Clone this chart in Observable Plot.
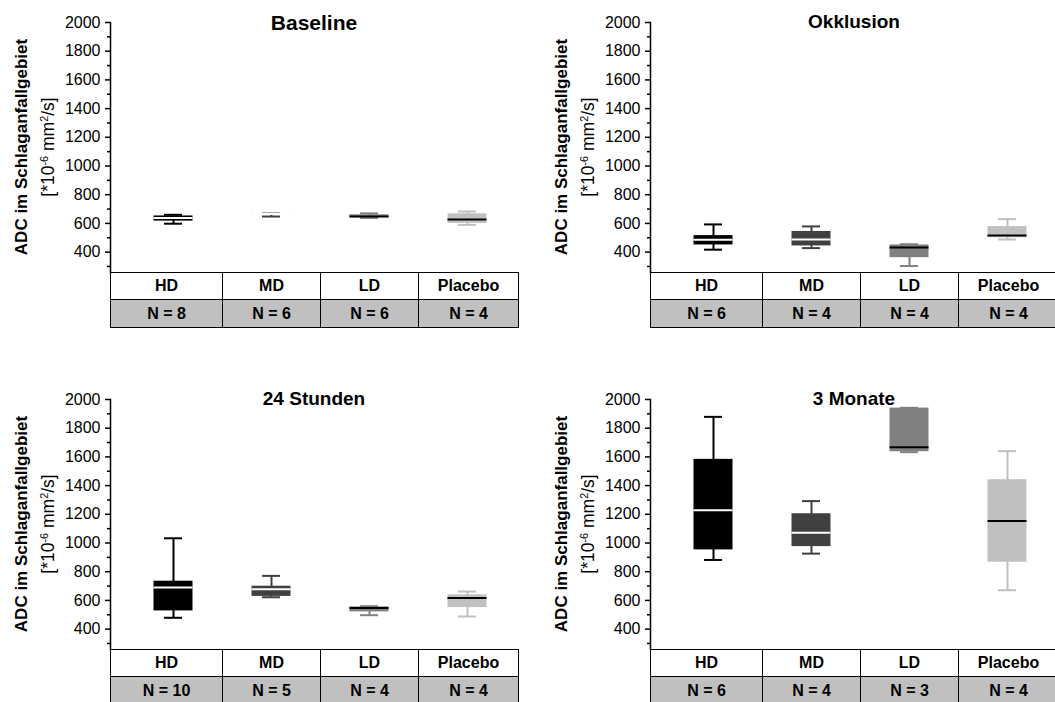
<!DOCTYPE html>
<html>
<head>
<meta charset="utf-8">
<script src="https://cdn.jsdelivr.net/npm/d3@7"></script>
<script src="https://cdn.jsdelivr.net/npm/@observablehq/plot@0.6"></script>
<style>
  body { margin: 0; background: #fff; font-family: "Liberation Sans", Arial, sans-serif; color: #000; }
  #root { position: relative; width: 1055px; height: 702px; overflow: hidden; background: #fff; }
  .panel { position: absolute; width: 540px; height: 377px; }
  .panel svg { position: absolute; left: 0; top: 0; }
  .title { position: absolute; left: 110px; width: 408px; text-align: center; font-weight: bold; line-height: 1; white-space: nowrap; }
  .ylab { position: absolute; width: 260px; height: 54px; left: -95.5px; top: 120px; transform: rotate(-90deg); text-align: center; font-size: 17px; line-height: 27px; white-space: nowrap; }
  .ylab .l1 { font-weight: bold; }
  .ylab .l2 { font-size: 17.5px; }
  .ylab sup { font-size: 0.62em; vertical-align: 0.55em; line-height: 0; }
  table.ntab { position: absolute; top: 272px; left: 110px; border-collapse: collapse; table-layout: fixed; font-weight: bold; font-size: 16px; }
  table.ntab td { border: 1.6px solid #000; text-align: center; padding: 0; overflow: hidden; white-space: nowrap; }
  table.ntab tr.r1 td { height: 26px; background: #fff; }
  table.ntab tr.r2 td { height: 27px; background: #c0c0c0; }
</style>
</head>
<body>
<div id="root"></div>
<script>
// ---------- data ----------
const categories = ["HD", "MD", "LD", "Placebo"];
const boxColors = ["#000000", "#404040", "#808080", "#c0c0c0"];
const medianColors = ["#ffffff", "#ffffff", "#000000", "#000000"];
const panelTitles = ["Baseline", "Okklusion", "24 Stunden", "3 Monate"];
const titleSizes = [21, 19, 19, 19];

// group sizes per panel
const nBaseline = [8, 6, 6, 4];
const nOkklusion = [6, 4, 4, 4];
const n24Stunden = [10, 5, 4, 4];
const n3Monate = [6, 4, 3, 4];

// [min, q1, median, q3, max] per group (HD, MD, LD, Placebo)
const statsBaseline = [[598, 616, 638, 652, 660], [648, 662, 665, 667, 669], [638, 640, 648, 660, 670], [590, 600, 627, 667, 683]];
const statsOkklusion = [[417, 450, 486, 515, 593], [428, 443, 488, 544, 579], [303, 361, 433, 450, 455], [488, 500, 516, 578, 630]];
const stats24Stunden = [[479, 527, 690, 734, 1033], [622, 628, 678, 699, 771], [497, 520, 548, 555, 560], [488, 550, 616, 639, 662]];
const stats3Monate = [[882, 952, 1228, 1583, 1879], [926, 975, 1072, 1204, 1292], [1633, 1636, 1668, 1940, 1942], [671, 866, 1153, 1441, 1640]];

const yTicks = [400, 600, 800, 1000, 1200, 1400, 1600, 1800, 2000];
const yMinorTicks = [300, 500, 700, 900, 1100, 1300, 1500, 1700, 1900];
const yDomain = [258, 2000];

const yLabelLine1 = "ADC im Schlaganfallgebiet";

// ---------- layout ----------
const panels = [
  {title: panelTitles[0], n: nBaseline, stats: statsBaseline, left: 0, top: 0, ts: titleSizes[0]},
  {title: panelTitles[1], n: nOkklusion, stats: statsOkklusion, left: 540, top: 0, ts: titleSizes[1]},
  {title: panelTitles[2], n: n24Stunden, stats: stats24Stunden, left: 0, top: 377, ts: titleSizes[2]},
  {title: panelTitles[3], n: n3Monate, stats: stats3Monate, left: 540, top: 377, ts: titleSizes[3]}
];

const root = document.getElementById("root");

for (const p of panels) {
  const rows = categories.map((c, i) => ({
    group: c,
    min: p.stats[i][0], q1: p.stats[i][1], med: p.stats[i][2], q3: p.stats[i][3], max: p.stats[i][4],
    fill: boxColors[i], mcol: medianColors[i]
  }));

  const chart = Plot.plot({
    width: 540,
    height: 272,
    marginLeft: 110,
    marginRight: 22,
    marginTop: 22,
    marginBottom: 0,
    style: {fontFamily: "'Liberation Sans', Arial, sans-serif", fontSize: "16px", color: "#000", background: "transparent", overflow: "visible"},
    x: {domain: categories, axis: null, paddingInner: 0, paddingOuter: 0.07, align: 0.88},
    y: {domain: yDomain},
    color: {type: "identity"},
    marks: [
      Plot.ruleX(rows, {x: "group", y1: "min", y2: "max", stroke: "fill", strokeWidth: 2}),
      Plot.tickY(rows, {x: "group", y: "min", stroke: "fill", strokeWidth: 2, insetLeft: 40, insetRight: 40}),
      Plot.tickY(rows, {x: "group", y: "max", stroke: "fill", strokeWidth: 2, insetLeft: 40, insetRight: 40}),
      Plot.barY(rows, {x: "group", y1: "q1", y2: "q3", fill: "fill", insetLeft: 29.5, insetRight: 29.5}),
      Plot.tickY(rows, {x: "group", y: "med", stroke: "mcol", strokeWidth: 2, insetLeft: 29.5, insetRight: 29.5}),
      Plot.axisY(yMinorTicks, {tickSize: 3, strokeWidth: 1.5, text: null, label: null}),
      Plot.axisY(yTicks, {tickSize: 5, tickPadding: 5, strokeWidth: 1.5, fontSize: 16, tickFormat: d => String(d), label: null}),
      Plot.frame({anchor: "left", strokeWidth: 1.5})
    ]
  });

  const panel = document.createElement("div");
  panel.className = "panel";
  panel.style.left = p.left + "px";
  panel.style.top = p.top + "px";
  panel.appendChild(chart);

  // title
  const t = document.createElement("div");
  t.className = "title";
  t.style.fontSize = p.ts + "px";
  t.style.top = (p.ts === 21 ? 12 : 11.5) + "px";
  t.textContent = p.title;
  panel.appendChild(t);

  // y label (two lines)
  const yl = document.createElement("div");
  yl.className = "ylab";
  yl.innerHTML = '<div class="l1"></div><div class="l2">[*10<sup>-6</sup> mm<sup>2</sup>/s]</div>';
  yl.querySelector(".l1").textContent = yLabelLine1;
  panel.appendChild(yl);

  // table of groups and N, columns derived from the x scale
  const xs = chart.scale("x");
  const [r0, r1] = xs.range;
  const centers = categories.map(c => xs.apply(c) + xs.bandwidth / 2);
  const bounds = [r0];
  for (let i = 0; i < centers.length - 1; i++) bounds.push((centers[i] + centers[i + 1]) / 2);
  bounds.push(r1);
  const widths = bounds.slice(1).map((b, i) => b - bounds[i]);

  const tab = document.createElement("table");
  tab.className = "ntab";
  tab.style.left = (r0) + "px";
  tab.style.width = (r1 - r0) + "px";
  const cg = document.createElement("colgroup");
  widths.forEach(w => { const col = document.createElement("col"); col.style.width = w + "px"; cg.appendChild(col); });
  tab.appendChild(cg);
  const tr1 = document.createElement("tr"); tr1.className = "r1";
  const tr2 = document.createElement("tr"); tr2.className = "r2";
  categories.forEach((c, i) => {
    const a = document.createElement("td"); a.textContent = c; tr1.appendChild(a);
    const b = document.createElement("td"); b.textContent = "N = " + p.n[i]; tr2.appendChild(b);
  });
  tab.appendChild(tr1); tab.appendChild(tr2);
  panel.appendChild(tab);

  root.appendChild(panel);
}
</script>
</body>
</html>
